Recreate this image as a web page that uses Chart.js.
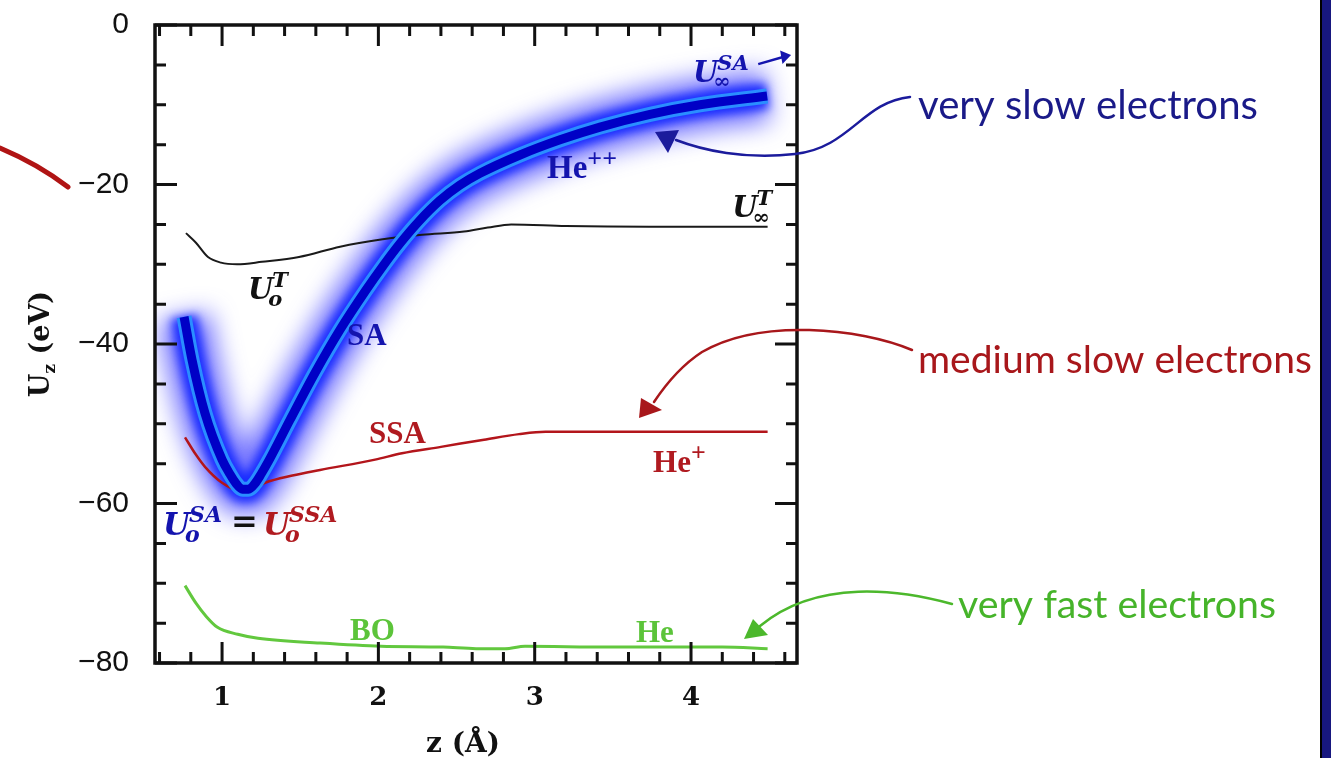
<!DOCTYPE html>
<html><head><meta charset="utf-8">
<script src="https://cdn.jsdelivr.net/npm/chart.js@4.4.0/dist/chart.umd.min.js"></script>
<style>html,body{margin:0;padding:0;background:#fff;overflow:hidden}</style>
</head><body>
<canvas id="c" width="1331" height="758"></canvas>
<script>
// ---------- data ----------
const saZ  = [0.757, 0.808, 0.891, 1.0, 1.05, 1.09, 1.13, 1.17, 1.21, 1.25, 1.30, 1.435, 1.595, 1.755, 1.915, 2.03, 2.138, 2.26, 2.394, 2.52, 2.65, 2.906, 3.162, 3.418, 3.738, 4.058, 4.487];
const saU  = [-36.6, -42.0, -48.7, -54.5, -56.3, -57.5, -58.2, -58.2, -57.5, -56.3, -54.6, -49.5, -43.6, -38.2, -33.4, -30.2, -27.4, -24.6, -22.0, -20.1, -18.6, -16.3, -14.4, -12.8, -11.2, -10.0, -8.9];

const tZ   = [0.769, 0.833, 0.910, 0.993, 1.096, 1.255, 1.492, 1.755, 2.017, 2.279, 2.548, 2.70, 2.85, 3.20, 3.73, 4.49];
const tU   = [-26.1, -27.3, -29.1, -29.8, -30.0, -29.7, -29.1, -27.8, -26.9, -26.3, -25.9, -25.4, -25.0, -25.2, -25.3, -25.3];

const ssaZ = [0.763, 0.83, 0.891, 1.0, 1.1, 1.2, 1.275, 1.45, 1.627, 1.979, 2.151, 2.40, 2.676, 2.90, 3.07, 3.50, 4.49];
const ssaU = [-51.7, -53.8, -55.4, -57.4, -58.3, -58.1, -57.4, -56.5, -55.8, -54.5, -53.7, -52.9, -52.0, -51.3, -51.0, -51.0, -51.0];

const boZ  = [0.763, 0.833, 0.90, 0.968, 1.10, 1.23, 1.627, 2.017, 2.414, 2.625, 2.81, 2.938, 3.47, 4.20, 4.49];
const boU  = [-70.3, -72.5, -74.2, -75.5, -76.4, -76.9, -77.5, -77.9, -78.0, -78.2, -78.2, -77.9, -78.0, -78.0, -78.2];

const xTickValues = [1, 2, 3, 4];
const xTickLabels = ['1', '2', '3', '4'];
const yTickValues = [0, -20, -40, -60, -80];
const yTickLabels = ['0', '\u221220', '\u221240', '\u221260', '\u221280'];

const X_MIN = 0.571, X_MAX = 4.678, Y_MIN = -80, Y_MAX = 0;

// ---------- helpers ----------
const pts = (xs, ys) => xs.map((x, i) => ({x, y: ys[i]}));
const labelFor = (v, vals, labs) => {
  const i = vals.findIndex(t => Math.abs(t - v) < 1e-6);
  return i >= 0 ? labs[i] : '';
};
const isMajor = (v, vals) => vals.some(t => Math.abs(t - v) < 1e-6);

const line = (data, color, width, order, extra) => Object.assign({
  data, borderColor: color, borderWidth: width, pointRadius: 0, fill: false,
  cubicInterpolationMode: 'monotone', order, borderCapStyle: 'butt', borderJoinStyle: 'round'
}, extra || {});

const SA = pts(saZ, saU);

// ---------- plugins ----------
const glowPlugin = {
  id: 'glow',
  beforeDatasetDraw(chart, args) {
    const ds = chart.data.datasets[args.index];
    if (ds.blur) { chart.ctx.save(); chart.ctx.filter = 'blur(' + ds.blur + 'px)'; }
  },
  afterDatasetDraw(chart, args) {
    const ds = chart.data.datasets[args.index];
    if (ds.blur) chart.ctx.restore();
  }
};

const framePlugin = {
  id: 'frame',
  afterDatasetsDraw(chart) {
    const {ctx, chartArea: a, scales: {x, y}} = chart;
    ctx.save();
    ctx.strokeStyle = '#111';
    ctx.lineWidth = 3;
    ctx.beginPath();
    x.ticks.forEach(t => {
      const p = x.getPixelForValue(t.value);
      const len = isMajor(t.value, xTickValues) ? 21 : 11;
      ctx.moveTo(p, a.bottom); ctx.lineTo(p, a.bottom - len);
      ctx.moveTo(p, a.top); ctx.lineTo(p, a.top + len);
    });
    y.ticks.forEach(t => {
      const p = y.getPixelForValue(t.value);
      const len = isMajor(t.value, yTickValues) ? 22 : 11;
      ctx.moveTo(a.left, p); ctx.lineTo(a.left + len, p);
      ctx.moveTo(a.right, p); ctx.lineTo(a.right - len, p);
    });
    ctx.stroke();
    ctx.lineWidth = 3.5;
    ctx.strokeRect(a.left, a.top, a.width, a.height);
    ctx.restore();
  }
};

function drawU(ctx, x0, base, color, sup, sub, size, supColor) {
  ctx.fillStyle = color;
  ctx.font = 'italic bold ' + size + 'px "DejaVu Serif"';
  ctx.fillText('U', x0, base);
  const w = ctx.measureText('U').width;
  const s2 = Math.round(size * 0.72);
  ctx.font = 'italic bold ' + s2 + 'px "DejaVu Serif"';
  ctx.fillStyle = supColor || color;
  ctx.fillText(sup, x0 + w - 1, base - size * 0.42);
  ctx.fillText(sub, x0 + w - 5, base + size * 0.22);
}

function tri(ctx, pts, color) {
  ctx.fillStyle = color;
  ctx.beginPath();
  ctx.moveTo(pts[0][0], pts[0][1]);
  ctx.lineTo(pts[1][0], pts[1][1]);
  ctx.lineTo(pts[2][0], pts[2][1]);
  ctx.closePath();
  ctx.fill();
}

function fitFont(ctx, text, family, targetW) {
  ctx.font = '40px ' + family;
  const w = ctx.measureText(text).width;
  ctx.font = (40 * targetW / w).toFixed(2) + 'px ' + family;
}

const notePlugin = {
  id: 'notes',
  afterDraw(chart) {
    const {ctx, scales: {x, y}} = chart;
    const X = v => x.getPixelForValue(v), Y = v => y.getPixelForValue(v);
    ctx.save();
    ctx.textAlign = 'left';
    ctx.textBaseline = 'alphabetic';

    const BLUE = '#1414ae', RED = '#b01a20', GREEN = '#5cc43a';
    const serifB = 'bold 31px "Liberation Serif"';

    // in-plot labels (positions in data units)
    ctx.font = serifB; ctx.fillStyle = BLUE;
    ctx.fillText('SA', X(1.799), Y(-40.1));
    ctx.font = 'bold 33px "Liberation Serif"';
    ctx.fillText('He', X(3.079), Y(-19.2));
    let w = ctx.measureText('He').width;
    ctx.font = 'bold 26px "Liberation Serif"';
    ctx.fillText('++', X(3.079) + w, Y(-19.2) - 11);

    ctx.fillStyle = RED; ctx.font = serifB;
    ctx.fillText('SSA', X(1.94), Y(-52.4));
    ctx.fillText('He', X(3.757), Y(-56.05));
    w = ctx.measureText('He').width;
    ctx.font = 'bold 26px "Liberation Serif"';
    ctx.fillText('+', X(3.757) + w, Y(-56.05) - 11);

    ctx.fillStyle = GREEN; ctx.font = serifB;
    ctx.fillText('BO', X(1.819), Y(-77.1));
    ctx.fillText('He', X(3.648), Y(-77.35));

    // U labels
    drawU(ctx, X(4.013), Y(-7.15), BLUE, 'SA', '\u221e', 29);
    drawU(ctx, X(4.263), Y(-24.1), '#111', 'T', '\u221e', 29);
    drawU(ctx, X(1.166), Y(-34.4), '#111', 'T', 'o', 29);
    // equation
    const ex = X(0.622), eb = Y(-64.0);
    drawU(ctx, ex, eb, BLUE, 'SA', 'o', 31);
    ctx.fillStyle = '#111'; ctx.font = 'bold 32px "DejaVu Serif"';
    ctx.fillText('=', ex + 68, eb - 3);
    drawU(ctx, ex + 100, eb, RED, 'SSA', 'o', 31);

    // small arrow next to U∞SA
    ctx.strokeStyle = BLUE; ctx.lineWidth = 2.5;
    ctx.beginPath(); ctx.moveTo(X(4.43), Y(-4.9)); ctx.lineTo(X(4.60), Y(-3.95)); ctx.stroke();
    tri(ctx, [[X(4.64), Y(-3.75)], [X(4.57), Y(-3.2)], [X(4.585), Y(-4.9)]], BLUE);

    // axis titles
    ctx.fillStyle = '#111';
    ctx.font = 'bold 28px "DejaVu Serif"';
    ctx.textAlign = 'center';
    ctx.fillText('z (\u00c5)', 463, 752);
    ctx.textAlign = 'left';
    ctx.save();
    ctx.translate(40, 344);
    ctx.rotate(-Math.PI / 2);
    ctx.font = 'bold 27px "DejaVu Serif"';
    const wU = ctx.measureText('U').width;
    const wR = ctx.measureText(' (eV)').width;
    ctx.font = 'bold 17px "DejaVu Serif"';
    const wz = ctx.measureText('z').width;
    const tot = wU + wz + wR;
    let cx = -tot / 2;
    ctx.font = 'bold 27px "DejaVu Serif"';
    ctx.fillText('U', cx, 9); cx += wU;
    ctx.font = 'bold 17px "DejaVu Serif"';
    ctx.fillText('z', cx, 15); cx += wz;
    ctx.font = 'bold 27px "DejaVu Serif"';
    ctx.fillText(' (eV)', cx, 9);
    ctx.restore();

    // right-hand notes
    const sans = 'Lato, "Open Sans", sans-serif';
    ctx.fillStyle = '#1a1a88';
    fitFont(ctx, 'very slow electrons', sans, 340);
    ctx.fillText('very slow electrons', 918, 119);
    ctx.fillStyle = '#a8171b';
    fitFont(ctx, 'medium slow electrons', sans, 394);
    ctx.fillText('medium slow electrons', 918, 373);
    ctx.fillStyle = '#46b42a';
    fitFont(ctx, 'very fast electrons', sans, 318);
    ctx.fillText('very fast electrons', 958, 618);

    // connectors
    ctx.lineWidth = 2.5; ctx.lineCap = 'round';
    ctx.strokeStyle = '#1b1b9c';
    ctx.beginPath(); ctx.moveTo(910, 97);
    ctx.bezierCurveTo(862, 102, 850, 148, 795, 154);
    ctx.bezierCurveTo(745, 160, 702, 150, 676, 140);
    ctx.stroke();
    tri(ctx, [[655, 132], [679, 130], [668, 153]], '#1b1b9c');

    ctx.strokeStyle = '#a8171b';
    ctx.beginPath(); ctx.moveTo(912, 350);
    ctx.bezierCurveTo(860, 328, 760, 318, 702, 352);
    ctx.bezierCurveTo(682, 365, 666, 384, 654, 402);
    ctx.stroke();
    tri(ctx, [[641, 398], [639, 418], [662, 410]], '#a8171b');

    ctx.strokeStyle = '#4cb82c';
    ctx.beginPath(); ctx.moveTo(952, 604);
    ctx.bezierCurveTo(900, 590, 818, 578, 760, 626);
    ctx.stroke();
    tri(ctx, [[744, 639], [753, 619], [768, 635]], '#4cb82c');

    // red fragment at top-left
    ctx.strokeStyle = '#b01414'; ctx.lineWidth = 5;
    ctx.beginPath(); ctx.moveTo(0, 148); ctx.quadraticCurveTo(38, 164, 68, 187); ctx.stroke();

    // right border strip
    ctx.fillStyle = '#17177f';
    ctx.fillRect(1322, 0, 9, 758);
    ctx.fillStyle = '#000';
    ctx.fillRect(1320, 0, 2, 758);
    ctx.restore();
  }
};

// ---------- chart ----------
new Chart(document.getElementById('c'), {
  type: 'line',
  data: {
    datasets: [
      line(SA, '#0000c6', 9, 0),
      line(SA, '#2a8eff', 15, 1),
      line(pts(tZ, tU), '#1a1a1a', 2, 2),
      line(pts(ssaZ, ssaU), '#b3151b', 2.5, 2),
      line(pts(boZ, boU), '#62c83e', 3, 2),
      line(SA, 'rgba(20,40,255,0.95)', 26, 3, {blur: 5}),
      line(SA, 'rgba(70,70,255,0.75)', 52, 4, {blur: 12})
    ]
  },
  options: {
    responsive: false,
    animation: false,
    events: [],
    layout: {padding: {left: 0, top: 25, right: 534, bottom: 0}},
    plugins: {legend: {display: false}, tooltip: {enabled: false}},
    scales: {
      x: {
        type: 'linear', position: 'bottom', min: X_MIN, max: X_MAX,
        grid: {display: false}, border: {display: false},
        ticks: {
          stepSize: 0.2, includeBounds: false, autoSkip: false, maxRotation: 0,
          padding: 12, color: '#111',
          font: {family: '"DejaVu Serif"', weight: 'bold', size: 26},
          callback: v => labelFor(v, xTickValues, xTickLabels)
        },
        afterFit: s => { s.height = 95; s.paddingLeft = 0; s.paddingRight = 0; }
      },
      y: {
        type: 'linear', position: 'left', min: Y_MIN, max: Y_MAX,
        grid: {display: false}, border: {display: false},
        ticks: {
          stepSize: 5, autoSkip: false, padding: 18, color: '#111',
          font: {family: '"Liberation Sans"', size: 30},
          callback: v => labelFor(v, yTickValues, yTickLabels)
        },
        afterFit: s => { s.width = 155; s.paddingTop = 0; s.paddingBottom = 0; }
      }
    }
  },
  plugins: [glowPlugin, framePlugin, notePlugin]
});
</script>
</body></html>
